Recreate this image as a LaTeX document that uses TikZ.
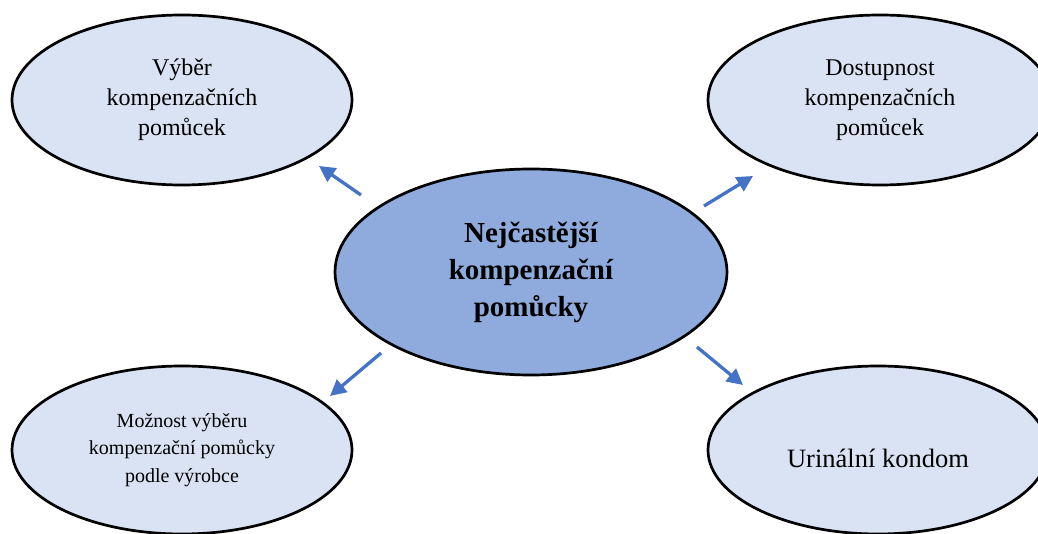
\documentclass[tikz,border=0pt]{standalone}
\usepackage{fontspec}
\setmainfont{Liberation Serif}
\usepackage{tikz}
\usetikzlibrary{shapes.geometric,arrows.meta,positioning}
\definecolor{bubble}{RGB}{218,227,243}
\definecolor{hub}{RGB}{143,170,220}
\definecolor{arrowblue}{RGB}{68,114,196}
\tikzset{bubble/.style={ellipse,draw=black,line width=2.7pt,fill=bubble,inner sep=0pt,align=center,minimum width=340pt,minimum height=168pt},
         pointer/.style={arrowblue,line width=3.3pt,-{Triangle[length=16pt,width=16pt]}}}

\begin{document}
\begin{tikzpicture}[x=1pt,y=-1pt]
                \useasboundingbox (0,0) rectangle (1038,534);
                \node[bubble,fill=hub,minimum width=392pt,minimum height=206pt,font=\fontsize{29}{37}\selectfont\bfseries] (hub) at (531,272) {Nejčastější\\kompenzační\\pomůcky};
                \node[bubble,minimum height=170pt,font=\fontsize{24}{30}\selectfont] (choice) at (182,100) {Výběr\\kompenzačních\\pomůcek};
                \node[bubble,minimum width=344pt,minimum height=170pt,font=\fontsize{24}{30}\selectfont] (access) at (880,100) {Dostupnost\\kompenzačních\\pomůcek};
                \node[bubble,font=\fontsize{20}{27.5}\selectfont] (maker) at (182,450) {Možnost výběru\\kompenzační pomůcky\\podle výrobce};
                \node[bubble,font=\fontsize{26.5}{32}\selectfont] (condom) at (878,450) {\raisebox{-8pt}[\height][\depth]{Urinální kondom}};
                \coordinate (p1) at (361,195);
                \coordinate (q1) at (319,166);
                \coordinate (p2) at (704,206);
                \coordinate (q2) at (753,176);
                \coordinate (p3) at (381,353);
                \coordinate (q3) at (330,396);
                \coordinate (p4) at (697,347);
                \coordinate (q4) at (743,385);
                \draw[pointer] (p1) -- (q1);
                \draw[pointer] (p2) -- (q2);
                \draw[pointer] (p3) -- (q3);
                \draw[pointer] (p4) -- (q4);
            \end{tikzpicture}
\end{document}
